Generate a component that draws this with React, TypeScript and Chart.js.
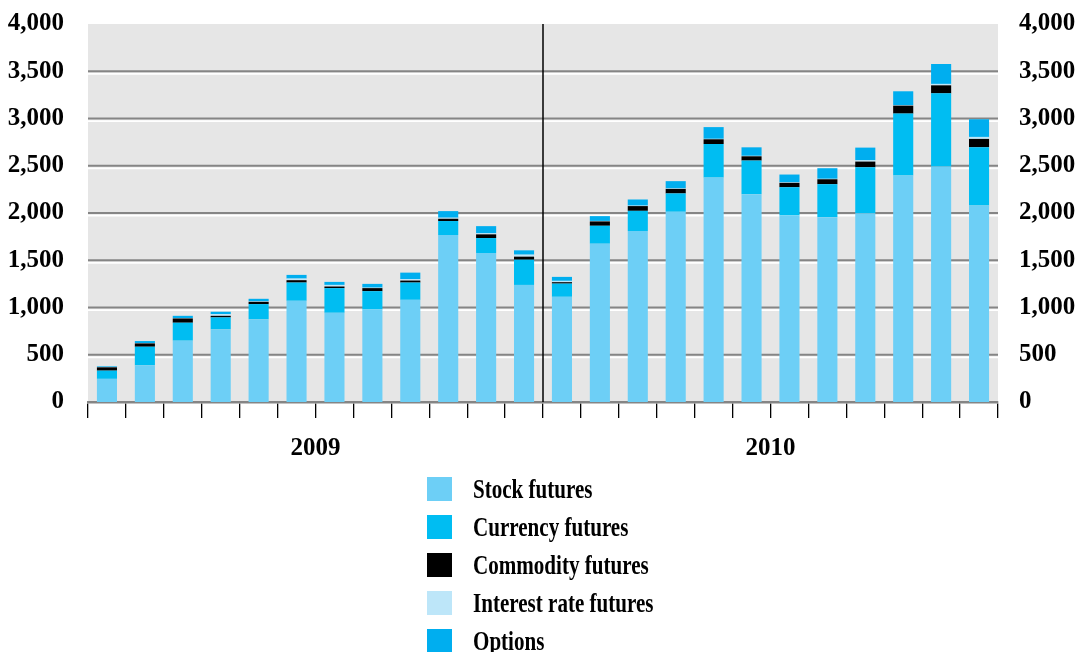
import React, { useEffect, useRef } from "react";
import { Chart, registerables } from "chart.js";

Chart.register(...registerables);

const months: string[] = [
  "Jan 2009", "Feb 2009", "Mar 2009", "Apr 2009", "May 2009", "Jun 2009",
  "Jul 2009", "Aug 2009", "Sep 2009", "Oct 2009", "Nov 2009", "Dec 2009",
  "Jan 2010", "Feb 2010", "Mar 2010", "Apr 2010", "May 2010", "Jun 2010",
  "Jul 2010", "Aug 2010", "Sep 2010", "Oct 2010", "Nov 2010", "Dec 2010",
];

const yearLabels: string[] = ["2009", "2010"];

const stockFutures: number[] = [245, 388, 649, 768, 874, 1071, 944, 979, 1081, 1767, 1577, 1239, 1113, 1675, 1809, 2013, 2375, 2199, 1974, 1956, 1998, 2396, 2492, 2079];
const currencyFutures: number[] = [87, 197, 190, 127, 162, 193, 261, 194, 183, 148, 158, 267, 140, 190, 214, 194, 355, 356, 299, 349, 486, 656, 774, 617];
const commodityFutures: number[] = [35, 35, 45, 17, 24, 25, 17, 32, 21, 24, 39, 32, 15, 46, 50, 48, 50, 45, 46, 52, 60, 84, 85, 88];
const interestRateFutures: number[] = [3, 3, 3, 18, 5, 17, 17, 5, 15, 11, 11, 21, 14, 5, 5, 5, 5, 5, 5, 5, 14, 5, 15, 21];
const options: number[] = [7, 22, 25, 25, 27, 39, 32, 40, 69, 70, 76, 46, 42, 51, 65, 77, 124, 90, 83, 112, 134, 147, 211, 187];

const seriesNames: string[] = ["Stock futures", "Currency futures", "Commodity futures", "Interest rate futures", "Options"];
const seriesColors: string[] = ["#6dcff6", "#00bdf2", "#000000", "#bde6f9", "#00aeef"];

const FONT_FAMILY = "'Liberation Serif', 'Times New Roman', serif";

const fmt = (v: number) => Number(v).toLocaleString("en-US");

const decorPlugin = {
  id: "decor",
  beforeDraw(chart: any) {
    const { ctx, chartArea: a } = chart;
    ctx.save();
    ctx.fillStyle = "#e6e6e6";
    ctx.fillRect(a.left, a.top, a.right - a.left, a.bottom - a.top);
    ctx.restore();
  },
  beforeDatasetsDraw(chart: any) {
    const { ctx, chartArea: a } = chart;
    const ys = chart.scales.y;
    ctx.save();
    ys.ticks.forEach((t: any) => {
      if (t.value <= ys.min || t.value >= ys.max) return;
      const py = ys.getPixelForValue(t.value);
      ctx.strokeStyle = "#858585";
      ctx.lineWidth = 2.2;
      ctx.beginPath();
      ctx.moveTo(a.left, py);
      ctx.lineTo(a.right, py);
      ctx.stroke();
      ctx.strokeStyle = "#ffffff";
      ctx.lineWidth = 1.6;
      ctx.beginPath();
      ctx.moveTo(a.left, py + 2.6);
      ctx.lineTo(a.right, py + 2.6);
      ctx.stroke();
    });
    ctx.restore();
  },
  afterDatasetsDraw(chart: any) {
    const { ctx, chartArea: a } = chart;
    const xs = chart.scales.x;
    const half = months.length / 2;
    const px = (xs.getPixelForValue(half - 1) + xs.getPixelForValue(half)) / 2;
    ctx.save();
    ctx.strokeStyle = "#000000";
    ctx.lineWidth = 1.5;
    ctx.beginPath();
    ctx.moveTo(px, a.top);
    ctx.lineTo(px, a.bottom);
    ctx.stroke();
    ctx.restore();
  },
};

export default function App() {
  const canvasRef = useRef<HTMLCanvasElement | null>(null);

  useEffect(() => {
    if (!canvasRef.current) return;
    const values = [stockFutures, currencyFutures, commodityFutures, interestRateFutures, options];
    const tickFont = { family: FONT_FAMILY, size: 25, weight: "bold" as any };
    const chart = new Chart(canvasRef.current, {
      type: "bar",
      data: {
        labels: months,
        datasets: seriesNames.map((name, i) => ({
          label: name,
          data: values[i],
          backgroundColor: seriesColors[i],
          borderWidth: 0,
          barPercentage: 0.53,
          categoryPercentage: 1,
        })),
      },
      options: {
        animation: false,
        responsive: false,
        devicePixelRatio: 1,
        layout: { padding: { top: 24, left: 0, right: 0, bottom: 0 } },
        plugins: {
          legend: { display: false },
          tooltip: { enabled: false },
        },
        scales: {
          x: {
            stacked: true,
            offset: true,
            grid: {
              offset: true,
              drawOnChartArea: false,
              drawTicks: true,
              tickLength: 16,
              color: "#000000",
              lineWidth: 1.3,
            },
            border: { display: true, color: "#858585", width: 2.5 },
            ticks: {
              autoSkip: false,
              maxRotation: 0,
              minRotation: 0,
              padding: 16,
              color: "#000000",
              font: tickFont,
              labelOffset: 19,
              callback: (_v: any, i: number) => {
                const per = months.length / yearLabels.length;
                if ((i + 1) % per === per / 2) return yearLabels[Math.floor(i / per)];
                return "";
              },
            },
            afterFit: (scale: any) => {
              scale.height = 250;
            },
          },
          y: {
            stacked: true,
            position: "left",
            min: 0,
            max: 4000,
            grid: { display: false },
            border: { display: false },
            ticks: {
              stepSize: 500,
              padding: 16,
              color: "#000000",
              font: tickFont,
              callback: (v: any) => fmt(v),
            },
            afterFit: (scale: any) => {
              scale.width = 88;
              scale.paddingTop = 0;
              scale.paddingBottom = 0;
            },
          },
          y2: {
            position: "right",
            min: 0,
            max: 4000,
            grid: { display: false },
            border: { display: false },
            ticks: {
              stepSize: 500,
              padding: 13,
              color: "#000000",
              font: tickFont,
              callback: (v: any) => fmt(v),
            },
            afterFit: (scale: any) => {
              scale.width = 81;
              scale.paddingTop = 0;
              scale.paddingBottom = 0;
            },
          },
        },
      },
      plugins: [decorPlugin],
    });
    return () => chart.destroy();
  }, []);

  return (
    <div style={{ position: "absolute", left: 0, top: 0, width: 1079, height: 652, background: "#ffffff" }}>
      <canvas ref={canvasRef} width={1079} height={652} style={{ display: "block", width: 1079, height: 652 }} />
      <div style={{ position: "absolute", left: 427, top: 470 }}>
        {seriesNames.map((name, i) => (
          <div key={name} style={{ display: "flex", alignItems: "center", height: 38 }}>
            <div style={{ width: 25, height: 24, background: seriesColors[i], flex: "none" }} />
            <div
              style={{
                marginLeft: 21,
                fontFamily: FONT_FAMILY,
                fontWeight: "bold",
                fontSize: 27,
                color: "#000",
                whiteSpace: "nowrap",
                transform: "scaleX(0.78)",
                transformOrigin: "left center",
                lineHeight: "38px",
              }}
            >
              {name}
            </div>
          </div>
        ))}
      </div>
    </div>
  );
}
